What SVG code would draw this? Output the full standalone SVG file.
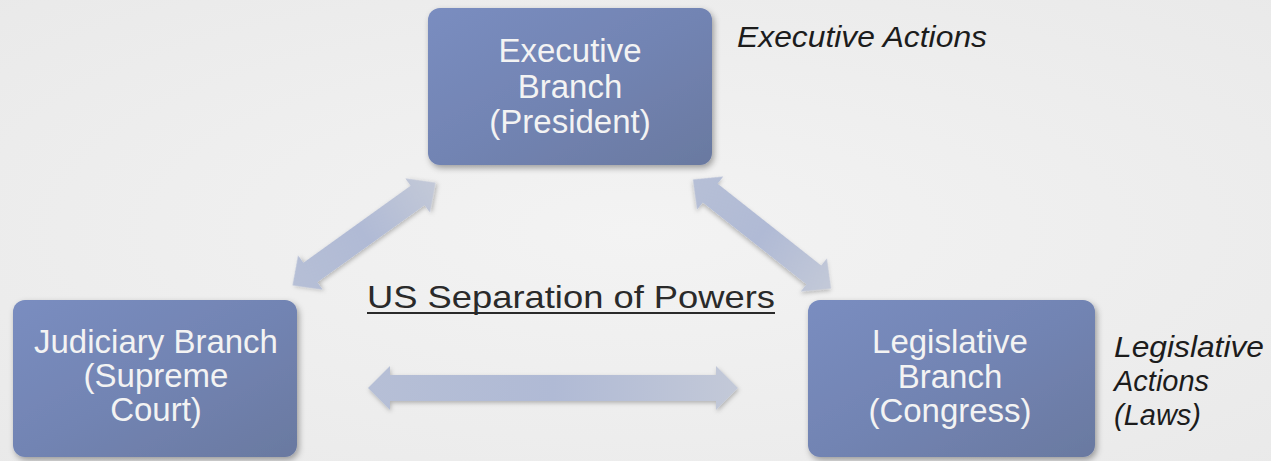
<svg xmlns="http://www.w3.org/2000/svg" width="1271" height="461" viewBox="0 0 1271 461">
  <defs>
    <radialGradient id="bg" cx="0.5" cy="0.5" r="0.75">
      <stop offset="0" stop-color="#f3f3f3"/>
      <stop offset="1" stop-color="#e9e9e9"/>
    </radialGradient>
    <linearGradient id="boxFill" x1="0" y1="0" x2="1" y2="1">
      <stop offset="0" stop-color="#7a8dc0"/>
      <stop offset="0.5" stop-color="#7284b3"/>
      <stop offset="1" stop-color="#6a79a0"/>
    </linearGradient>
    <linearGradient id="arrowFill" x1="0" y1="0" x2="1" y2="0">
      <stop offset="0" stop-color="#b6bfd6"/>
      <stop offset="0.5" stop-color="#b0bad5"/>
      <stop offset="1" stop-color="#c3c9d8"/>
    </linearGradient>
    <filter id="shadow" x="-10%" y="-10%" width="120%" height="130%">
      <feDropShadow dx="2" dy="3" stdDeviation="3" flood-color="#000" flood-opacity="0.35"/>
    </filter>
    <filter id="ashadow" x="-10%" y="-30%" width="120%" height="160%">
      <feDropShadow dx="1" dy="2" stdDeviation="2" flood-color="#000" flood-opacity="0.25"/>
    </filter>
  </defs>
  <style>
    .box { fill: url(#boxFill); filter: url(#shadow); }
    .btxt { font-family: "Liberation Sans", Arial, sans-serif; font-size: 33px; fill: #f3f3f3; text-anchor: middle; }
    .note { font-family: "Liberation Sans", Arial, sans-serif; font-size: 30px; font-style: italic; fill: #1c1c1c; }
    .side { font-family: "Liberation Sans", Arial, sans-serif; font-size: 29px; font-style: italic; fill: #1c1c1c; }
    .title { font-family: "Liberation Sans", Arial, sans-serif; font-size: 32px; fill: #2a2a2a; }
    .arrow { fill: url(#arrowFill); filter: url(#ashadow); }
  </style>

  <rect x="0" y="0" width="1271" height="461" fill="url(#bg)"/>

  <g id="connectors">
    <path class="arrow" transform="translate(364,234) rotate(-35.7)" d="M-88,0 L-66,-21 L-66,-12 L66,-12 L66,-21 L88,0 L66,21 L66,12 L-66,12 L-66,21 Z"/>
    <path class="arrow" transform="translate(762,234) rotate(38.3)" d="M-88,0 L-66,-21 L-66,-12 L66,-12 L66,-21 L88,0 L66,21 L66,12 L-66,12 L-66,21 Z"/>
    <path class="arrow" d="M368,388 L390,366 L390,375 L716,375 L716,366 L738,388 L716,410 L716,401 L390,401 L390,410 Z"/>
  </g>

  <g id="executive">
    <rect class="box" x="428" y="8" width="284" height="157" rx="12"/>
    <text class="btxt" x="570" y="62">Executive</text>
    <text class="btxt" x="570" y="98">Branch</text>
    <text class="btxt" x="570" y="133">(President)</text>
  </g>

  <g id="judiciary">
    <rect class="box" x="13" y="300" width="284" height="157" rx="12"/>
    <text class="btxt" x="156" y="353">Judiciary Branch</text>
    <text class="btxt" x="156" y="387">(Supreme</text>
    <text class="btxt" x="156" y="421">Court)</text>
  </g>

  <g id="legislative">
    <rect class="box" x="808" y="300" width="287" height="157" rx="12"/>
    <text class="btxt" x="950" y="353">Legislative</text>
    <text class="btxt" x="950" y="388">Branch</text>
    <text class="btxt" x="950" y="422">(Congress)</text>
  </g>

  <g id="labels">
    <text class="note" x="737" y="47" textLength="250" lengthAdjust="spacingAndGlyphs">Executive Actions</text>
    <text class="side" x="1114" y="357" textLength="150" lengthAdjust="spacingAndGlyphs">Legislative</text>
    <text class="side" x="1114" y="391">Actions</text>
    <text class="side" x="1114" y="425">(Laws)</text>
    <text class="title" x="367" y="308" textLength="408" lengthAdjust="spacingAndGlyphs">US Separation of Powers</text>
    <rect x="367" y="312" width="408" height="2" fill="#2a2a2a"/>
  </g>
</svg>
